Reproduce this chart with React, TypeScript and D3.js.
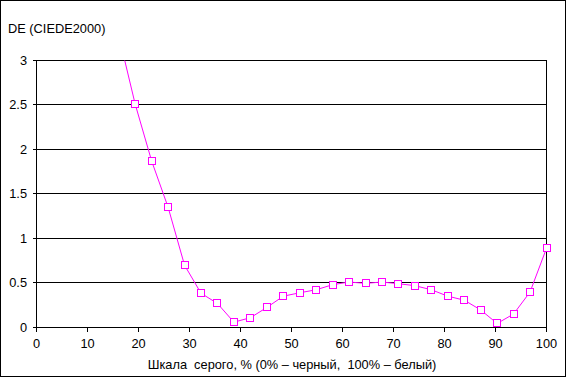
import React from "react";
import * as d3 from "d3";

const grayPct: number[] = [16.13, 19.35, 22.58, 25.81, 29.03, 32.26, 35.48, 38.71, 41.94, 45.16, 48.39, 51.61, 54.84, 58.06, 61.29, 64.52, 67.74, 70.97, 74.19, 77.42, 80.65, 83.87, 87.1, 90.32, 93.55, 96.77, 100];
const deValues: number[] = [3.28, 2.51, 1.87, 1.35, 0.7, 0.385, 0.27, 0.06, 0.11, 0.225, 0.352, 0.39, 0.424, 0.481, 0.511, 0.496, 0.511, 0.492, 0.47, 0.424, 0.352, 0.307, 0.197, 0.045, 0.152, 0.398, 0.89];
const xTicks: number[] = [0, 10, 20, 30, 40, 50, 60, 70, 80, 90, 100];
const yTicks: number[] = [0, 0.5, 1, 1.5, 2, 2.5, 3];
const yTitle = "DE (CIEDE2000)";
const xTitle = "Шкала  серого, % (0% – черный,  100% – белый)";

export default function App() {
  const W = 567, H = 379;
  const x = d3.scaleLinear().domain([0, 100]).range([36.5, 546.5]);
  const y = d3.scaleLinear().domain([0, 3]).range([327.5, 60.5]);
  const snap = (v: number) => Math.floor(v - 0.5) + 0.5;
  const pts = grayPct.map((g, i) => [g, deValues[i]] as [number, number]);
  const line = d3.line<[number, number]>().x(d => x(d[0])).y(d => y(d[1]));
  const font = "'Liberation Sans', Arial, sans-serif";
  return (
    <svg width={W} height={H} style={{ position: "fixed", left: 0, top: 0, background: "#fff" }} fontFamily={font} fontSize={12.8}>
      <rect x={0.5} y={0.5} width={565} height={376} fill="#fff" stroke="#000" />
      <defs>
        <clipPath id="plotclip">
          <rect x={x(0)} y={y(3)} width={x(100) - x(0)} height={y(0) - y(3)} />
        </clipPath>
      </defs>
      {yTicks.map(t => (
        <g key={"y" + t}>
          <line x1={x(0) - 4} x2={x(100)} y1={snap(y(t))} y2={snap(y(t))} stroke="#000" shapeRendering="crispEdges" />
          <text x={27} y={snap(y(t)) + 4.5} textAnchor="end" fill="#000">{t}</text>
        </g>
      ))}
      <line x1={x(0)} x2={x(0)} y1={y(3)} y2={y(0)} stroke="#000" shapeRendering="crispEdges" />
      <line x1={x(100)} x2={x(100)} y1={y(3)} y2={y(0)} stroke="#000" shapeRendering="crispEdges" />
      {xTicks.map(t => (
        <g key={"x" + t}>
          <line x1={x(t)} x2={x(t)} y1={y(0)} y2={y(0) + 4} stroke="#000" shapeRendering="crispEdges" />
          <text x={x(t)} y={348} textAnchor="middle" fill="#000">{t}</text>
        </g>
      ))}
      <text x={8} y={33} fill="#000">{yTitle}</text>
      <text x={292} y={369} textAnchor="middle" fill="#000" style={{ whiteSpace: "pre" }}>{xTitle}</text>
      <g clipPath="url(#plotclip)">
        <path d={line(pts) || ""} fill="none" stroke="#FF00FF" strokeWidth={1} />
      </g>
      {pts.filter(p => p[1] <= 3).map((p, i) => (
        <rect key={"m" + i} x={Math.round(x(p[0])) - 3.5} y={Math.round(y(p[1])) - 3.5} width={7} height={7} fill="#fff" stroke="#FF00FF" strokeWidth={1} />
      ))}
    </svg>
  );
}
